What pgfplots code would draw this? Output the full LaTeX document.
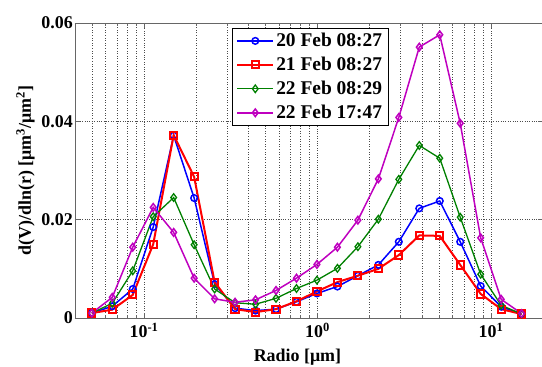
\documentclass[border=0pt]{standalone}
\usepackage{fontspec}
\setmainfont{Liberation Serif}
\usepackage{pgfplots}
\pgfplotsset{compat=1.18}
\definecolor{mgreen}{rgb}{0,0.5,0}
\definecolor{mmag}{rgb}{0.75,0,0.75}
\pgfplotsset{myleg/.style={legend image code/.code={\draw[mark repeat=2,mark phase=2,##1] plot coordinates {(0bp,0bp) (18bp,0bp) (36bp,0bp)};}}}
\begin{document}
\begin{tikzpicture}
\useasboundingbox (-75bp,-49bp) rectangle (467bp,318bp);
\begin{axis}[
  at={(0,0)}, anchor=south west,
  scale only axis, width=468.3bp, height=295bp,
  xmode=log, xmin=0.04, xmax=20,
  ymin=0, ymax=0.06,
  xtick={0.1,1,10},
  xticklabels={10\textsuperscript{-1},10\textsuperscript{0},10\textsuperscript{1}},
  minor xtick={0.05,0.06,0.07,0.08,0.09,0.2,0.3,0.4,0.5,0.6,0.7,0.8,0.9,2,3,4,5,6,7,8,9},
  ytick={0,0.02,0.04,0.06},
  yticklabels={0,0.02,0.04,0.06},
  scaled y ticks=false,
  tick align=inside,
  major tick length=5bp, minor tick length=3bp,
  xmajorgrids, xminorgrids, ymajorgrids,
  grid style={dotted, black!70, line width=0.6pt},
  minor grid style={dotted, black!70, line width=0.6pt},
  axis line style={black!60, line width=0.8pt},
  tick style={black!60, line width=0.6pt},
  ticklabel style={font=\fontsize{18}{20}\selectfont\bfseries},
  yticklabel style={inner sep=2bp},
  xticklabel style={inner sep=2bp, yshift=-3bp},
  xlabel={Radio [μm]},
  ylabel={d(V)/dln(r) [μm\textsuperscript{3}/μm\textsuperscript{2}]},
  label style={font=\fontsize{18}{20}\selectfont\bfseries},
  xlabel style={at={(axis description cs:0.475,-0.146)}, anchor=base},
  ylabel style={at={(axis description cs:-0.094,0.5)}, anchor=base},
  legend style={at={(axis description cs:0.335,0.983)}, anchor=north west,
    draw=black, line width=0.8pt, fill=white,
    font=\fontsize{19.5}{21}\selectfont\bfseries,
    inner xsep=4bp, inner ysep=3bp, row sep=5bp,
    cells={anchor=west}},
  every axis plot/.append style={mark options={solid, fill=none}},
]
\addplot[myleg, blue, line width=1.5bp, mark=o, mark size=3.3bp] coordinates {
(0.05,0.0010) (0.065604,0.0024) (0.086077,0.0059) (0.112939,0.0185) (0.148184,0.0371) (0.194429,0.0244) (0.255105,0.0069) (0.334716,0.0020) (0.439173,0.0015) (0.576227,0.0018) (0.756052,0.0033) (0.991996,0.0050) (1.301571,0.0064) (1.707757,0.0086) (2.240702,0.0108) (2.939966,0.0155) (3.857452,0.0223) (5.061260,0.0238) (6.640745,0.0155) (8.713145,0.0065) (11.432287,0.0023) (15.0,0.0008)};
\addlegendentry{20 Feb 08:27}
\addplot[myleg, red, line width=2bp, mark=square, mark size=3.6bp] coordinates {
(0.05,0.0010) (0.065604,0.0017) (0.086077,0.0047) (0.112939,0.0150) (0.148184,0.0372) (0.194429,0.0287) (0.255105,0.0073) (0.334716,0.0018) (0.439173,0.0012) (0.576227,0.0018) (0.756052,0.0034) (0.991996,0.0054) (1.301571,0.0073) (1.707757,0.0086) (2.240702,0.0100) (2.939966,0.0128) (3.857452,0.0168) (5.061260,0.0167) (6.640745,0.0108) (8.713145,0.0049) (11.432287,0.0018) (15.0,0.0008)};
\addlegendentry{21 Feb 08:27}
\addplot[myleg, mgreen, line width=1.3bp, mark=diamond, mark size=3.8bp] coordinates {
(0.05,0.0010) (0.065604,0.0030) (0.086077,0.0096) (0.112939,0.0206) (0.148184,0.0245) (0.194429,0.0149) (0.255105,0.0059) (0.334716,0.0031) (0.439173,0.0028) (0.576227,0.0040) (0.756052,0.0060) (0.991996,0.0077) (1.301571,0.0101) (1.707757,0.0145) (2.240702,0.0201) (2.939966,0.0282) (3.857452,0.0351) (5.061260,0.0325) (6.640745,0.0205) (8.713145,0.0089) (11.432287,0.0026) (15.0,0.0008)};
\addlegendentry{22 Feb 08:29}
\addplot[myleg, mmag, line width=1.5bp, mark=diamond, mark size=3.8bp] coordinates {
(0.05,0.0010) (0.065604,0.0042) (0.086077,0.0144) (0.112939,0.0225) (0.148184,0.0174) (0.194429,0.0081) (0.255105,0.0039) (0.334716,0.0032) (0.439173,0.0037) (0.576227,0.0056) (0.756052,0.0081) (0.991996,0.0109) (1.301571,0.0144) (1.707757,0.0199) (2.240702,0.0283) (2.939966,0.0408) (3.857452,0.0551) (5.061260,0.0576) (6.640745,0.0396) (8.713145,0.0163) (11.432287,0.0038) (15.0,0.0009)};
\addlegendentry{22 Feb 17:47}
\end{axis}
\end{tikzpicture}
\end{document}
